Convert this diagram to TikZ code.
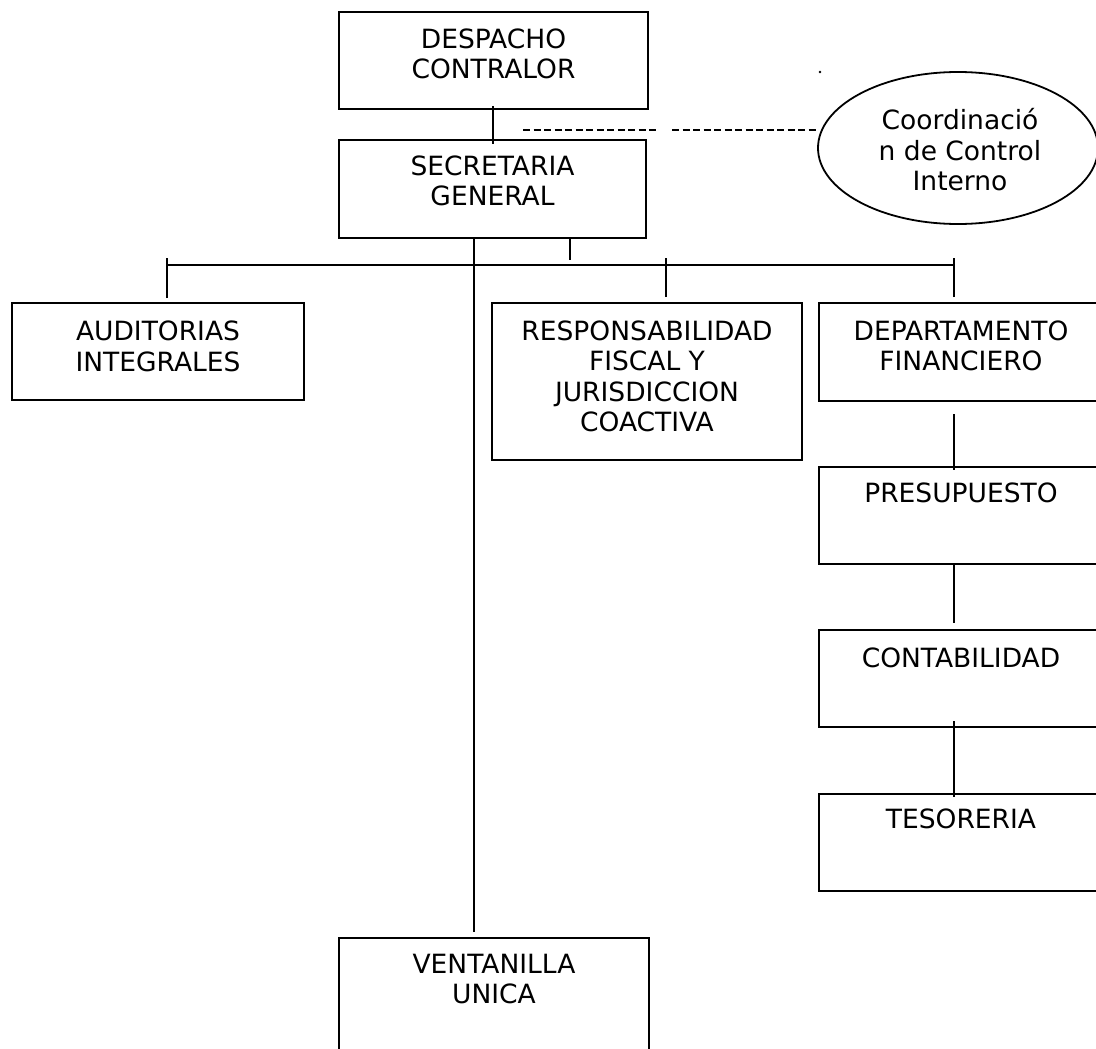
\documentclass[tikz,border=0pt]{standalone}
\usepackage{fontspec}
\setmainfont{DejaVu Sans}
\usetikzlibrary{shapes.geometric,calc}
\begin{document}
\begin{tikzpicture}[x=1pt,y=-1pt,
  box/.style={draw, line width=2pt, rectangle, inner sep=0pt, anchor=north west},
  lbl/.style={font=\fontsize{26.5}{30.5}\selectfont, align=center, inner sep=0pt, anchor=north},
  conn/.style={line width=2pt},
  dashline/.style={line width=2pt, dash pattern=on 7pt off 3.5pt}]
\useasboundingbox (0,0) rectangle (1096,1049);
\clip (0,0) rectangle (1096,1049);
% boxes
\node[box, minimum width=309pt, minimum height=97pt] (desp) at (338,11) {};
\node[box, minimum width=307pt, minimum height=98pt] (sec) at (338,139) {};
\node[box, minimum width=292pt, minimum height=97pt] (aud) at (11,302) {};
\node[box, minimum width=310pt, minimum height=157pt] (resp) at (491,302) {};
\node[box, minimum width=284pt, minimum height=98pt] (dep) at (818,302) {};
\node[box, minimum width=284pt, minimum height=97pt] (pres) at (818,466) {};
\node[box, minimum width=284pt, minimum height=97pt] (cont) at (818,629) {};
\node[box, minimum width=284pt, minimum height=97pt] (tes) at (818,793) {};
\node[box, minimum width=310pt, minimum height=140pt] (vent) at (338,937) {};
\node[draw, ellipse, line width=1.8pt, minimum width=280pt, minimum height=152pt, inner sep=0pt] (coord) at (958,148) {};
% texts
\node[lbl] (desptxt) at ($(desp.north)+(0,17.5)$) {DESPACHO\\CONTRALOR};
\node[lbl] (sectxt) at ($(sec.north)+(0,16.5)$) {SECRETARIA\\GENERAL};
\node[lbl] (audtxt) at ($(aud.north)+(0,19)$) {AUDITORIAS\\INTEGRALES};
\node[lbl] (resptxt) at ($(resp.north)+(0,18.5)$) {RESPONSABILIDAD\\FISCAL Y\\JURISDICCION\\COACTIVA};
\node[lbl] (deptxt) at ($(dep.north)+(0,18.5)$) {DEPARTAMENTO\\FINANCIERO};
\node[lbl] (prestxt) at ($(pres.north)+(0,16.5)$) {PRESUPUESTO};
\node[lbl] (conttxt) at ($(cont.north)+(0,18.5)$) {CONTABILIDAD};
\node[lbl] (testxt) at ($(tes.north)+(0,15.5)$) {TESORERIA};
\node[lbl] (venttxt) at ($(vent.north)+(0,16.5)$) {VENTANILLA\\UNICA};
\node[lbl, anchor=center] (coordtxt) at (960,150) {Coordinació\\n de Control\\Interno};
% connectors
\draw[conn] ($(desp.south)+(-0.5,-4)$) -- ($(sec.north)+(0.5,5)$);
\coordinate (dA) at (523,130);
\coordinate (dB) at (658,130);
\coordinate (dC) at (672,130);
\draw[dashline] (dA) -- (dB);
\draw[dashline] (dC) -- (dC -| coord.west);
\fill (820,72) circle (1.3);
\coordinate (busL) at (166,265);
\coordinate (busR) at (953,265);
\draw[conn] (busL) -- (busR);
\draw[conn] ($(sec.south)+(77.5,0)$) -- ++(0,21);
\draw[conn] ($(aud.north)+(9,-4)$) -- ($(aud.north)+(9,-44)$);
\draw[conn] ($(resp.north)+(19,-5)$) -- ++(0,-39);
\draw[conn] ($(dep.north)+(-7,-5)$) -- ++(0,-39);
\draw[conn] ($(sec.south)+(-18.5,0)$) -- ($(vent.north)+(-20,-5)$);
\draw[conn] ($(dep.south)+(-7,12)$) -- ($(pres.north)+(-7,4)$);
\draw[conn] ($(pres.south)+(-7,0)$) -- ($(cont.north)+(-7,-6)$);
\draw[conn] ($(cont.south)+(-7,-7)$) -- ($(tes.north)+(-7,4)$);
\end{tikzpicture}
\end{document}
